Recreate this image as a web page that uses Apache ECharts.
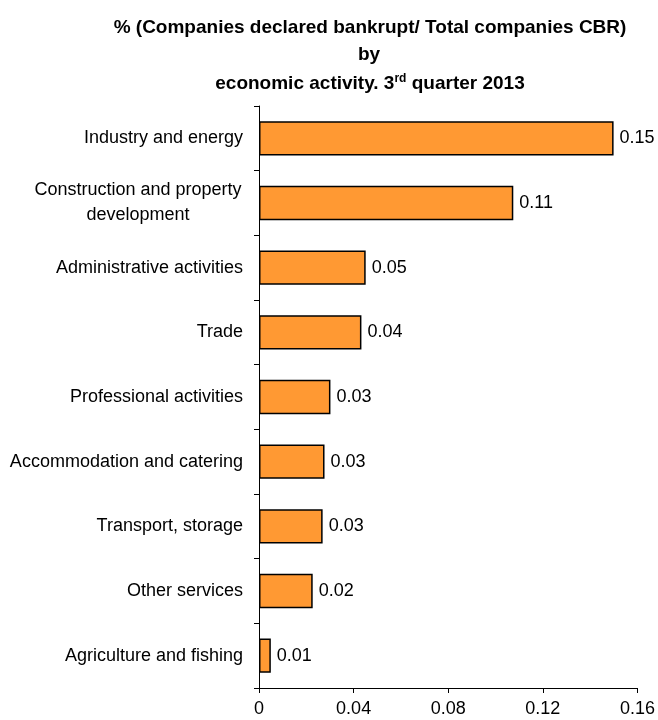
<!DOCTYPE html>
<html><head><meta charset="utf-8">
<script src="https://cdn.jsdelivr.net/npm/echarts@6/dist/echarts.min.js"></script>
<style>html,body{margin:0;padding:0;background:#fff}#c{width:658px;height:720px}</style>
</head><body><div id="c"></div>
<script>
const categories = ["Industry and energy","Construction and property development","Administrative activities","Trade","Professional activities","Accommodation and catering","Transport, storage","Other services","Agriculture and fishing"];
const values = [0.1499, 0.1075, 0.0451, 0.0433, 0.0302, 0.0277, 0.0269, 0.0227, 0.0050];
const valueLabels = ["0.15","0.11","0.05","0.04","0.03","0.03","0.03","0.02","0.01"];
const xTicks = [0, 0.04, 0.08, 0.12, 0.16];
const titleLines = ["% (Companies declared bankrupt/ Total companies CBR)", "by"];

const chart = echarts.init(document.getElementById('c'));
const F = '"Liberation Sans", Arial, sans-serif';
chart.setOption({
  animation: false,
  title: [
    {text: titleLines[0], left: 365, top: 13, textAlign: 'center', textStyle: {fontFamily: F, fontSize: 19, fontWeight: 'bold', color: '#000'}},
    {text: titleLines[1], left: 364, top: 40, textAlign: 'center', textStyle: {fontFamily: F, fontSize: 19, fontWeight: 'bold', color: '#000'}},
    {text: '{a|economic activity. 3}{s|rd}{a| quarter 2013}', left: 365, top: 68, textAlign: 'center',
      textStyle: {fontFamily: F, fontSize: 19, fontWeight: 'bold', color: '#000',
        rich: {a: {fontFamily: F, fontSize: 19, fontWeight: 'bold', color: '#000', verticalAlign: 'bottom'},
               s: {fontFamily: F, fontSize: 12, fontWeight: 'bold', color: '#000', verticalAlign: 'top', padding: [0,0,8,0]}}}}
  ],
  grid: {left: 259, right: 15, top: 106, bottom: 32, containLabel: false},
  xAxis: {type: 'value', min: 0, max: 0.16, interval: 0.04,
    axisLine: {show: true, lineStyle: {color: '#000'}},
    axisTick: {show: true, length: 5, lineStyle: {color: '#000'}},
    splitLine: {show: false},
    axisLabel: {fontFamily: F, fontSize: 18, color: '#000', margin: 12,
      formatter: v => { const t = xTicks.find(x => Math.abs(x - v) < 1e-9); return t === undefined ? '' : String(t); }}
  },
  yAxis: {type: 'category', data: categories, inverse: true,
    axisLine: {show: true, lineStyle: {color: '#000'}},
    axisTick: {show: true, length: 5, alignWithLabel: false, lineStyle: {color: '#000'}},
    axisLabel: {fontFamily: F, fontSize: 18, color: '#000', margin: 16, align: 'right',
      formatter: v => v === "Construction and property development" ? '{c|Construction and property}\n{c|development}' : v,
      rich: {c: {fontFamily: F, fontSize: 18, color: '#000', width: 210, align: 'center', lineHeight: 25}}}
  },
  series: [{type: 'bar', data: values, barCategoryGap: '47%',
    itemStyle: {color: '#FF9933', borderColor: '#000', borderWidth: 1.5},
    label: {show: true, position: 'right', distance: 6, fontFamily: F, fontSize: 18, color: '#000',
      formatter: p => valueLabels[p.dataIndex]}
  }]
});
</script></body></html>
